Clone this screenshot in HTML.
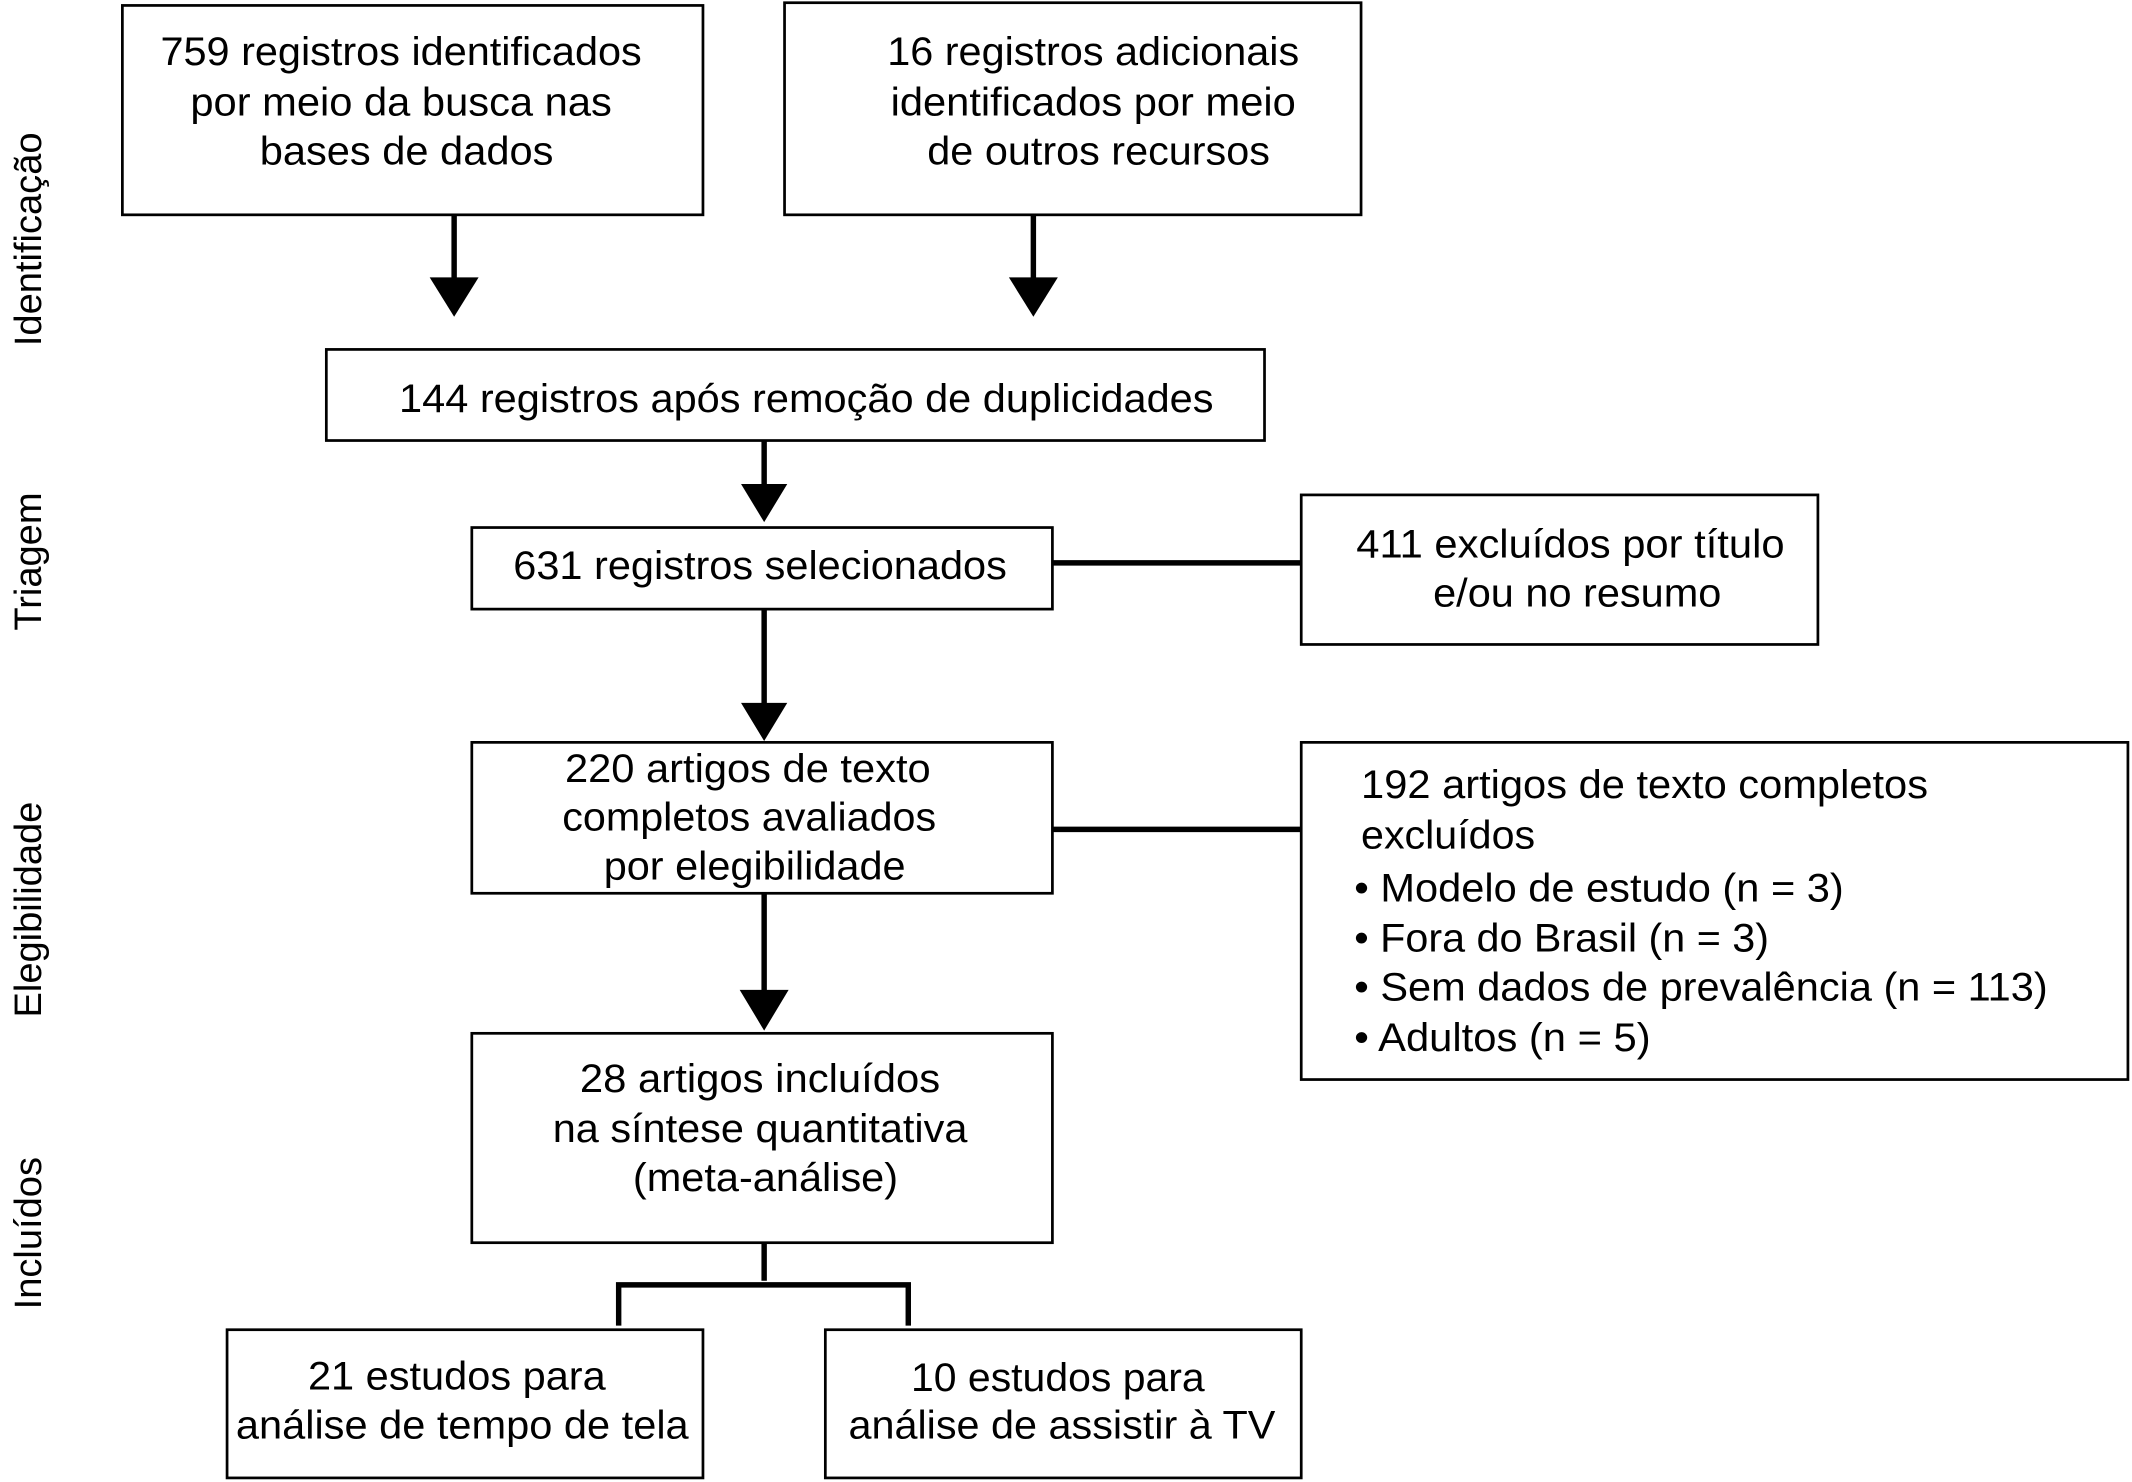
<!DOCTYPE html>
<html><head><meta charset="utf-8"><style>html,body{margin:0;padding:0;background:#fff}svg{display:block}</style></head>
<body>
<svg width="2132" height="1482" viewBox="0 0 1568 1090" preserveAspectRatio="none" xmlns="http://www.w3.org/2000/svg" font-family="Liberation Sans, sans-serif" font-size="29" fill="#000">
<g fill="none" stroke="#000" stroke-width="2">
<rect x="90" y="4" width="427" height="154"/>
<rect x="577" y="2" width="424" height="156"/>
<rect x="240" y="257" width="690" height="67"/>
<rect x="347" y="388" width="427" height="60"/>
<rect x="957" y="364" width="380" height="110"/>
<rect x="347" y="546" width="427" height="111"/>
<rect x="957" y="546" width="608" height="248"/>
<rect x="347" y="760" width="427" height="154"/>
<rect x="167" y="978" width="350" height="109"/>
<rect x="607" y="978" width="350" height="109"/>
</g>
<g stroke="#000" stroke-width="4" fill="none">
<line x1="334" y1="158" x2="334" y2="206"/>
<line x1="760" y1="158" x2="760" y2="206"/>
<line x1="562" y1="324" x2="562" y2="358"/>
<line x1="774" y1="414" x2="957" y2="414"/>
<line x1="562" y1="448" x2="562" y2="519"/>
<line x1="774" y1="610" x2="957" y2="610"/>
<line x1="562" y1="657" x2="562" y2="730"/>
<line x1="562" y1="914" x2="562" y2="942"/>
<polyline points="455,975 455,945 668,945 668,975"/>
</g>
<g fill="#000">
<polygon points="316,204 352,204 334,233"/>
<polygon points="742,204 778,204 760,233"/>
<polygon points="545,356 579,356 562,384"/>
<polygon points="545,517 579,517 562,545"/>
<polygon points="544,728 580,728 562,758"/>
</g>
<g text-anchor="middle" lengthAdjust="spacingAndGlyphs">
<text x="295" y="48" textLength="354" lengthAdjust="spacingAndGlyphs">759 registros identificados</text>
<text x="295" y="85" textLength="310" lengthAdjust="spacingAndGlyphs">por meio da busca nas</text>
<text x="299" y="121" textLength="216" lengthAdjust="spacingAndGlyphs">bases de dados</text>
<text x="804" y="48" textLength="303" lengthAdjust="spacingAndGlyphs">16 registros adicionais</text>
<text x="804" y="85" textLength="298" lengthAdjust="spacingAndGlyphs">identificados por meio</text>
<text x="808" y="121" textLength="252" lengthAdjust="spacingAndGlyphs">de outros recursos</text>
<text x="593" y="303" textLength="599" lengthAdjust="spacingAndGlyphs">144 registros após remoção de duplicidades</text>
<text x="559" y="426" textLength="363" lengthAdjust="spacingAndGlyphs">631 registros selecionados</text>
<text x="1155" y="410" textLength="315" lengthAdjust="spacingAndGlyphs">411 excluídos por título</text>
<text x="1160" y="446" textLength="212" lengthAdjust="spacingAndGlyphs">e/ou no resumo</text>
<text x="550" y="575" textLength="269" lengthAdjust="spacingAndGlyphs">220 artigos de texto</text>
<text x="551" y="611" textLength="275" lengthAdjust="spacingAndGlyphs">completos avaliados</text>
<text x="555" y="647" textLength="222" lengthAdjust="spacingAndGlyphs">por elegibilidade</text>
<text x="559" y="803" textLength="265" lengthAdjust="spacingAndGlyphs">28 artigos incluídos</text>
<text x="559" y="840" textLength="305" lengthAdjust="spacingAndGlyphs">na síntese quantitativa</text>
<text x="563" y="876" textLength="195" lengthAdjust="spacingAndGlyphs">(meta-análise)</text>
<text x="336" y="1022" textLength="219" lengthAdjust="spacingAndGlyphs">21 estudos para</text>
<text x="340" y="1058" textLength="333" lengthAdjust="spacingAndGlyphs">análise de tempo de tela</text>
<text x="778" y="1023" textLength="216" lengthAdjust="spacingAndGlyphs">10 estudos para</text>
<text x="781" y="1058" textLength="314" lengthAdjust="spacingAndGlyphs">análise de assistir à TV</text>
</g>
<g>
<text x="1001" y="587" textLength="417" lengthAdjust="spacingAndGlyphs">192 artigos de texto completos</text>
<text x="1001" y="624" textLength="128" lengthAdjust="spacingAndGlyphs">excluídos</text>
<text x="996" y="663" textLength="360" lengthAdjust="spacingAndGlyphs">• Modelo de estudo (n = 3)</text>
<text x="996" y="700" textLength="305" lengthAdjust="spacingAndGlyphs">• Fora do Brasil (n = 3)</text>
<text x="996" y="736" textLength="510" lengthAdjust="spacingAndGlyphs">• Sem dados de prevalência (n = 113)</text>
<text x="996" y="773" textLength="218" lengthAdjust="spacingAndGlyphs">• Adultos (n = 5)</text>
</g>
<g text-anchor="middle" font-size="28">
<text transform="translate(30,176) rotate(-90)">Identificação</text>
<text transform="translate(30,413) rotate(-90)">Triagem</text>
<text transform="translate(30,669) rotate(-90)">Elegibilidade</text>
<text transform="translate(30,907) rotate(-90)">Incluídos</text>
</g>
</svg>
</body></html>
